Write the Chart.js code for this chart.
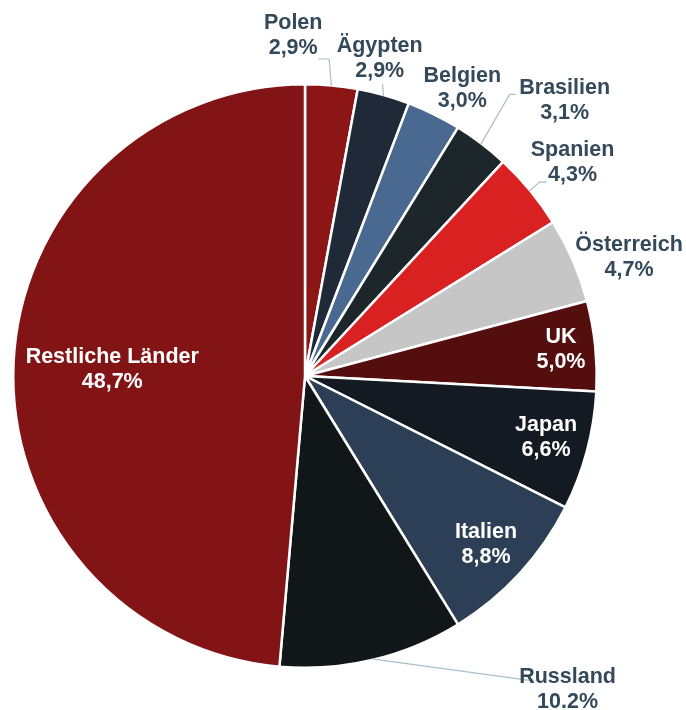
<!DOCTYPE html>
<html>
<head>
<meta charset="utf-8">
<script src="https://cdn.jsdelivr.net/npm/chart.js@4.4.0/dist/chart.umd.min.js"></script>
<style>
  body { margin: 0; background: #fff; }
  #wrap { width: 686px; height: 710px; }
</style>
</head>
<body>
<div id="wrap"><canvas id="pie" width="686" height="710"></canvas></div>
<script>
var countries = ['Polen', 'Ägypten', 'Belgien', 'Brasilien', 'Spanien', 'Österreich', 'UK', 'Japan', 'Italien', 'Russland', 'Restliche Länder'];
var shares = [2.9, 2.9, 3.0, 3.1, 4.3, 4.7, 5.0, 6.6, 8.8, 10.2, 48.7];
var shareText = ['2,9%', '2,9%', '3,0%', '3,1%', '4,3%', '4,7%', '5,0%', '6,6%', '8,8%', '10.2%', '48,7%'];

var sliceColors = ['#8c1616', '#1f2937', '#4a6990', '#1c262b', '#d92121', '#c6c6c6',
                   '#550e0e', '#141a21', '#2d3f57', '#111719', '#831416'];

// label placement: radius factor, angle shift (deg) from slice middle, inside or not, leader
var placement = [
  {rf: 1.166, da: -7.2, inside: false, leader: {dx: 25, dy: 23, h: 11}},
  {rf: 1.119, da: -2.4, inside: false, leader: {dx: 3, dy: 26, h: 0}},
  {rf: 1.122, da: 2.5, inside: false},
  {rf: 1.298, da: 6.1, inside: false, leader: {dx: -49, dy: -6, h: -6}},
  {rf: 1.172, da: 1.0, inside: false, leader: {dx: -26, dy: 19, h: -7}},
  {rf: 1.183, da: 3.2, inside: false},
  {rf: 0.882, da: 0, inside: true},
  {rf: 0.853, da: -0.5, inside: true},
  {rf: 0.848, da: 0.4, inside: true},
  {rf: 1.403, da: -26.6, inside: false, leader: {dx: -33, dy: -10, h: -7}},
  {rf: 0.661, da: -0.7, inside: true}
];

var labelPlugin = {
  id: 'sliceLabels',
  afterDraw: function(chart) {
    var ctx = chart.ctx;
    var arcs = chart.getDatasetMeta(0).data;
    ctx.save();
    ctx.font = 'bold 21.5px "Liberation Sans", Arial, sans-serif';
    ctx.textAlign = 'center';
    ctx.textBaseline = 'middle';
    arcs.forEach(function(arc, i) {
      var p = arc.getProps(['x', 'y', 'startAngle', 'endAngle', 'outerRadius'], true);
      var mid = (p.startAngle + p.endAngle) / 2;
      var R = p.outerRadius;
      var pl = placement[i];
      var a = mid + pl.da * Math.PI / 180;
      var lx = p.x + Math.cos(a) * R * pl.rf;
      var ly = p.y + Math.sin(a) * R * pl.rf;

      if (pl.leader) {
        var sx = p.x + Math.cos(mid) * (R - 1);
        var sy = p.y + Math.sin(mid) * (R - 1);
        var ex = lx + pl.leader.dx, ey = ly + pl.leader.dy;
        ctx.strokeStyle = '#a9bfcc';
        ctx.lineWidth = 1.2;
        ctx.beginPath();
        ctx.moveTo(sx, sy);
        ctx.lineTo(ex + pl.leader.h, ey);
        ctx.lineTo(ex, ey);
        ctx.stroke();
      }

      ctx.fillStyle = pl.inside ? '#ffffff' : '#34495a';
      ctx.fillText(countries[i], lx, ly - 12.5);
      ctx.fillText(shareText[i], lx, ly + 12.5);
    });
    ctx.restore();
  }
};

var ctx = document.getElementById('pie');
var chart = new Chart(ctx, {
  type: 'pie',
  data: {
    labels: countries,
    datasets: [{
      data: shares,
      backgroundColor: sliceColors,
      borderColor: '#ffffff',
      borderWidth: 2.5
    }]
  },
  options: {
    responsive: false,
    animation: false,
    layout: {
      padding: {left: 12, top: 83, right: 88, bottom: 41}
    },
    plugins: {
      legend: {display: false},
      tooltip: {enabled: false}
    }
  },
  plugins: [labelPlugin]
});
</script>
</body>
</html>
